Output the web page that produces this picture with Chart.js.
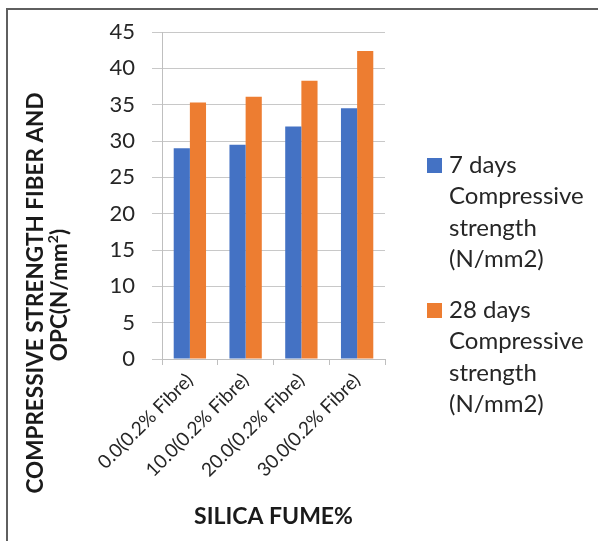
<!DOCTYPE html>
<html>
<head>
<meta charset="utf-8">
<script src="https://cdn.jsdelivr.net/npm/chart.js@4.4.1/dist/chart.umd.min.js"></script>
<style>
html,body{margin:0;padding:0;background:#fff;}
#wrap{position:relative;width:598px;height:541px;}
</style>
</head>
<body>
<div id="wrap"><canvas id="c" width="598" height="541"></canvas></div>
<script>
const categories = ["0.0(0.2% Fibre)", "10.0(0.2% Fibre)", "20.0(0.2% Fibre)", "30.0(0.2% Fibre)"];
const days7 = [29.0, 29.5, 32.0, 34.5];
const days28 = [35.3, 36.1, 38.3, 42.4];
const seriesNames = [
  ["7 days", "Compressive", "strength", "(N/mm2)"],
  ["28 days", "Compressive", "strength", "(N/mm2)"]
];
const yTitleLines = ["COMPRESSIVE STRENGTH FIBER AND", "OPC(N/mm"];
const xTitle = "SILICA FUME%";
const colors = ["#4472C4", "#ED7D31"];

const decor = {
  id: 'decor',
  afterDraw(chart) {
    const ctx = chart.ctx;
    const area = chart.chartArea;
    ctx.save();
    // frame
    ctx.strokeStyle = '#5f5f5f';
    ctx.lineWidth = 2;
    ctx.beginPath();
    ctx.moveTo(7, 541);
    ctx.lineTo(7, 9);
    ctx.lineTo(598, 9);
    ctx.stroke();
    // x title
    ctx.fillStyle = '#1a1a1a';
    ctx.font = 'bold 23px Lato';
    ctx.textAlign = 'center';
    ctx.textBaseline = 'middle';
    ctx.fillText(xTitle, (area.left + area.right) / 2, 517);
    // y title
    ctx.save();
    ctx.translate(36, 293);
    ctx.rotate(-Math.PI / 2);
    ctx.font = 'bold 22.5px Lato';
    ctx.fillText(yTitleLines[0], 0, 0);
    ctx.restore();
    ctx.save();
    ctx.translate(60, 295);
    ctx.rotate(-Math.PI / 2);
    ctx.font = 'bold 22.5px Lato';
    const w1 = ctx.measureText(yTitleLines[1]).width;
    ctx.font = 'bold 14px Lato';
    const ws = ctx.measureText('2').width;
    ctx.font = 'bold 22.5px Lato';
    const wp2 = ctx.measureText(')').width;
    const total = w1 + ws + wp2;
    ctx.textAlign = 'left';
    let x0 = -total / 2;
    ctx.fillText(yTitleLines[1], x0, 0);
    ctx.font = 'bold 14px Lato';
    ctx.fillText('2', x0 + w1, -7);
    ctx.font = 'bold 22.5px Lato';
    ctx.fillText(')', x0 + w1 + ws, 0);
    ctx.restore();
    // legend
    ctx.textAlign = 'left';
    ctx.textBaseline = 'middle';
    ctx.font = '24px Lato';
    const starts = [165, 310];
    chart.data.datasets.forEach((ds, i) => {
      ctx.fillStyle = ds.backgroundColor;
      ctx.fillRect(427, starts[i] - 7, 15, 15);
      ctx.fillStyle = '#262626';
      seriesNames[i].forEach((t, j) => {
        ctx.fillText(t, 449, starts[i] + j * 31.5);
      });
    });
    ctx.restore();
  }
};

new Chart(document.getElementById('c'), {
  type: 'bar',
  data: {
    labels: categories,
    datasets: [
      { label: seriesNames[0].join(' '), data: days7, backgroundColor: colors[0] },
      { label: seriesNames[1].join(' '), data: days28, backgroundColor: colors[1] }
    ]
  },
  options: {
    responsive: false,
    animation: false,
    devicePixelRatio: 1,
    layout: { padding: { left: 0, right: 213, top: 32, bottom: 0 } },
    datasets: { bar: { categoryPercentage: 0.58, barPercentage: 1.0 } },
    plugins: { legend: { display: false }, tooltip: { enabled: false } },
    scales: {
      x: {
        grid: { drawOnChartArea: false, drawTicks: true, tickLength: 6, color: '#bfbfbf' },
        border: { color: '#bfbfbf', width: 1 },
        ticks: {
          minRotation: 45, maxRotation: 45, color: '#262626', padding: 4,
          font: { family: 'Lato', size: 19 }
        },
        afterFit(s) { s.height = 182; }
      },
      y: {
        min: 0, max: 45,
        grid: { color: '#c8c8c8', tickLength: 10, drawTicks: true },
        border: { color: '#bfbfbf', width: 1 },
        ticks: {
          stepSize: 5, color: '#262626', padding: 17,
          font: { family: 'Lato', size: 22 }
        },
        afterFit(s) { s.width = 162; }
      }
    }
  },
  plugins: [decor]
});
</script>
</body>
</html>
